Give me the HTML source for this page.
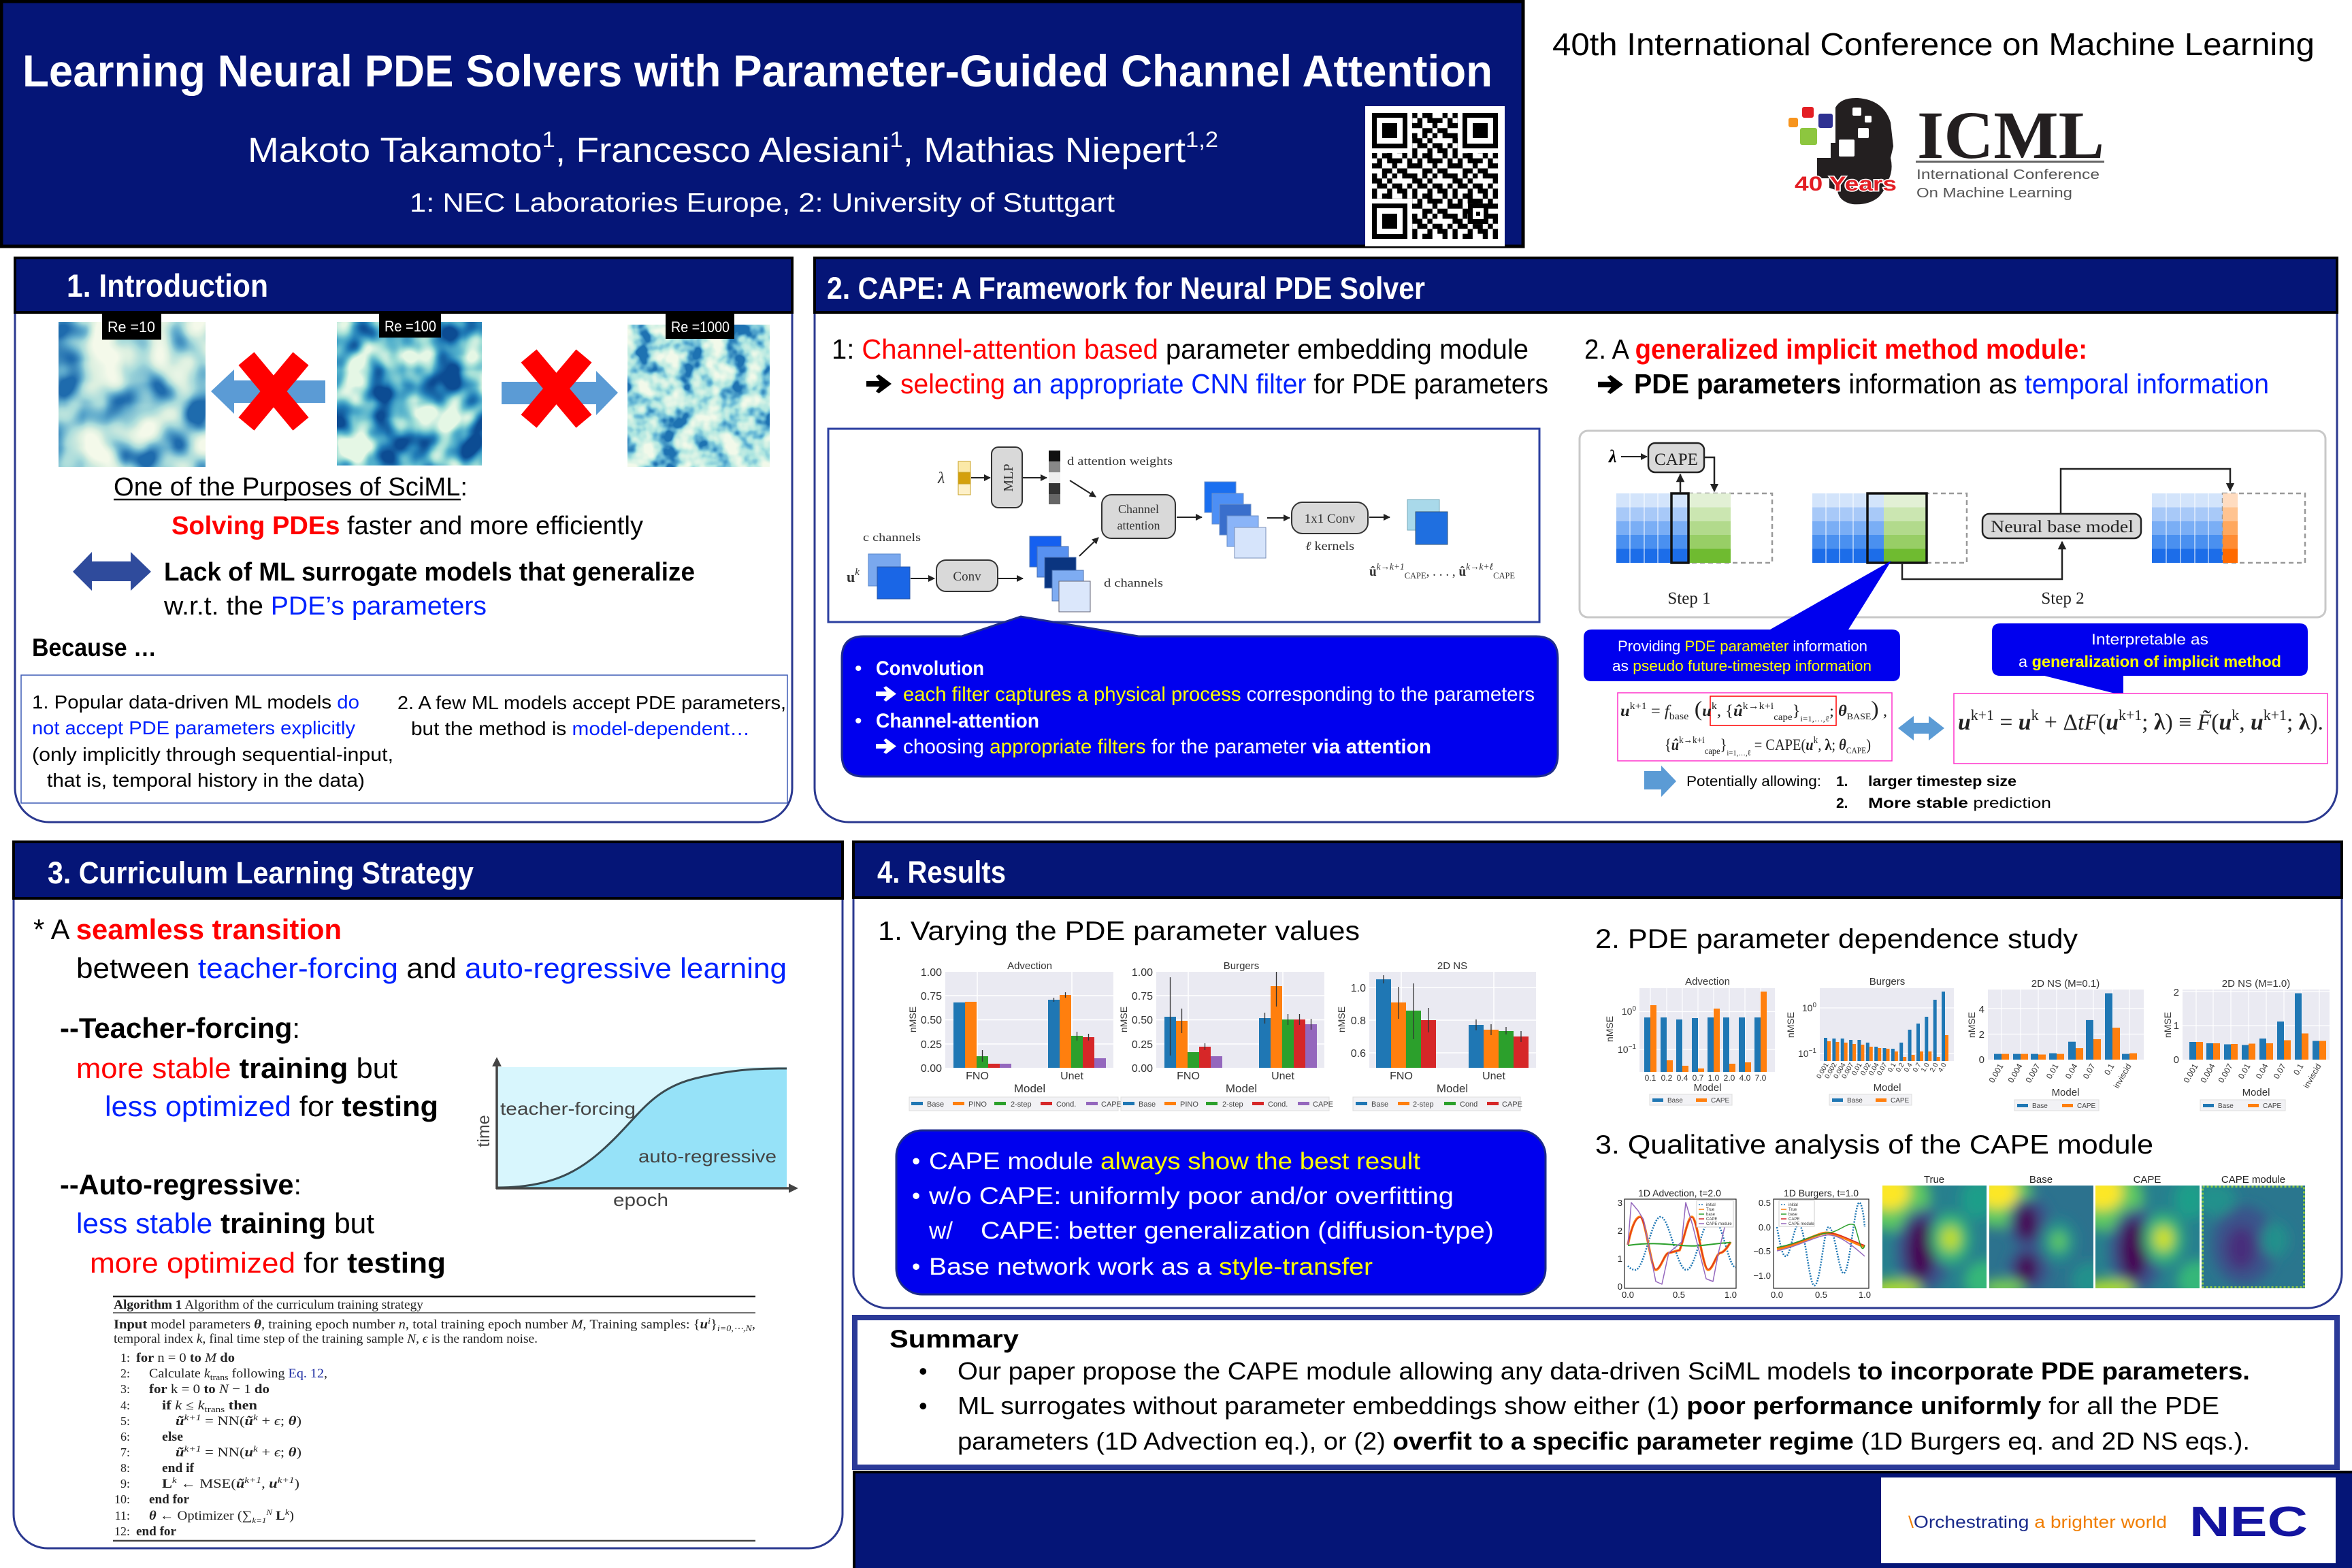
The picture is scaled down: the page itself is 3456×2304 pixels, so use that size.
<!DOCTYPE html>
<html><head><meta charset="utf-8"><style>
html,body{margin:0;padding:0;background:#fff;width:3456px;height:2304px;overflow:hidden}
svg{display:block}
text{font-family:"Liberation Sans",Arial,sans-serif}
.r{font-family:"Liberation Serif","Times New Roman",serif}
.b{font-weight:bold}
.i{font-style:italic}
.red{fill:#ff0000}
.blu{fill:#0022ff}
.yel{fill:#ffff00}
.wh{fill:#ffffff}
.tk{fill:#333}
</style></head><body>
<svg width="3456" height="2304" viewBox="0 0 3456 2304" xmlns="http://www.w3.org/2000/svg">
<defs>
<marker id="ah" viewBox="0 0 10 10" refX="9" refY="5" markerWidth="5" markerHeight="5" orient="auto"><path d="M0 0L10 5L0 10z" fill="#222"/></marker>
<marker id="ah2" viewBox="0 0 10 10" refX="8" refY="5" markerWidth="4" markerHeight="4" orient="auto"><path d="M0 0L10 5L0 10z" fill="#444"/></marker>
<symbol id="ar" viewBox="0 0 40 30"><path d="M0 10.5H21L15 3L20 0L40 15L20 30L15 27L21 19.5H0Z"/></symbol>
<linearGradient id="gb" x1="0" y1="0" x2="0" y2="1"><stop offset="0" stop-color="#d3e4fb"/><stop offset=".2" stop-color="#d3e4fb"/><stop offset=".2" stop-color="#a8c9f8"/><stop offset=".4" stop-color="#a8c9f8"/><stop offset=".4" stop-color="#7aaef5"/><stop offset=".6" stop-color="#7aaef5"/><stop offset=".6" stop-color="#4a90f0"/><stop offset=".8" stop-color="#4a90f0"/><stop offset=".8" stop-color="#1c6de9"/><stop offset="1" stop-color="#1c6de9"/></linearGradient>
<linearGradient id="gg" x1="0" y1="0" x2="0" y2="1"><stop offset="0" stop-color="#e2f0d5"/><stop offset=".2" stop-color="#e2f0d5"/><stop offset=".2" stop-color="#cbe6b1"/><stop offset=".4" stop-color="#cbe6b1"/><stop offset=".4" stop-color="#b2da8c"/><stop offset=".6" stop-color="#b2da8c"/><stop offset=".6" stop-color="#98ce66"/><stop offset=".8" stop-color="#98ce66"/><stop offset=".8" stop-color="#6fbb30"/><stop offset="1" stop-color="#6fbb30"/></linearGradient>
<linearGradient id="go" x1="0" y1="0" x2="0" y2="1"><stop offset="0" stop-color="#ffdcc0"/><stop offset=".2" stop-color="#ffdcc0"/><stop offset=".2" stop-color="#ffc390"/><stop offset=".4" stop-color="#ffc390"/><stop offset=".4" stop-color="#ffa85e"/><stop offset=".6" stop-color="#ffa85e"/><stop offset=".6" stop-color="#ff8c33"/><stop offset=".8" stop-color="#ff8c33"/><stop offset=".8" stop-color="#ff6a00"/><stop offset="1" stop-color="#ff6a00"/></linearGradient>
<pattern id="qrp" patternUnits="userSpaceOnUse" x="2016" y="166" width="59.2" height="59.2"><path transform="scale(7.4)" fill="#000" d="M0 0h1v1h-1zM2 0h2v1h-2zM6 0h1v1h-1zM1 1h1v1h-1zM3 1h3v1h-3zM7 1h1v1h-1zM0 2h2v1h-2zM4 2h1v1h-1zM7 2h1v1h-1zM2 3h2v1h-2zM5 3h2v1h-2zM0 4h1v1h-1zM2 4h1v1h-1zM4 4h1v1h-1zM6 4h2v1h-2zM0 5h2v1h-2zM3 5h1v1h-1zM1 6h2v1h-2zM4 6h2v1h-2zM7 6h1v1h-1zM0 7h1v1h-1zM3 7h1v1h-1zM5 7h2v1h-2z"/></pattern>
<filter id="tb1" x="0" y="0" width="1" height="1" color-interpolation-filters="sRGB"><feTurbulence type="fractalNoise" baseFrequency="0.016" numOctaves="2" seed="7"/><feColorMatrix type="matrix" values="0 0 0 2.5 -0.75 0 0 0 2.5 -0.75 0 0 0 2.5 -0.75 0 0 0 0 1"/><feComponentTransfer><feFuncR type="table" tableValues="0.96 0.86 0.66 0.36 0.12"/><feFuncG type="table" tableValues="0.98 0.94 0.86 0.66 0.42"/><feFuncB type="table" tableValues="0.92 0.88 0.86 0.8 0.68"/></feComponentTransfer></filter>
<filter id="tb2" x="0" y="0" width="1" height="1" color-interpolation-filters="sRGB"><feTurbulence type="fractalNoise" baseFrequency="0.022" numOctaves="2" seed="3"/><feColorMatrix type="matrix" values="0 0 0 2.5 -0.75 0 0 0 2.5 -0.75 0 0 0 2.5 -0.75 0 0 0 0 1"/><feComponentTransfer><feFuncR type="table" tableValues="0.9 0.62 0.32 0.13 0.05"/><feFuncG type="table" tableValues="0.97 0.87 0.69 0.49 0.3"/><feFuncB type="table" tableValues="0.9 0.84 0.8 0.72 0.58"/></feComponentTransfer></filter>
<filter id="tb3" x="0" y="0" width="1" height="1" color-interpolation-filters="sRGB"><feTurbulence type="fractalNoise" baseFrequency="0.03" numOctaves="3" seed="11"/><feColorMatrix type="matrix" values="0 0 0 2.5 -0.75 0 0 0 2.5 -0.75 0 0 0 2.5 -0.75 0 0 0 0 1"/><feComponentTransfer><feFuncR type="table" tableValues="0.95 0.84 0.68 0.4 0.12"/><feFuncG type="table" tableValues="0.98 0.95 0.9 0.72 0.45"/><feFuncB type="table" tableValues="0.92 0.9 0.88 0.84 0.7"/></feComponentTransfer></filter>
<filter id="hb" x="-30%" y="-30%" width="160%" height="160%"><feGaussianBlur stdDeviation="9"/></filter>
</defs>

<!-- ============ HEADER ============ -->
<rect x="2" y="2" width="2236" height="360" fill="#051577" stroke="#000" stroke-width="5"/>
<text x="33" y="127" font-size="66" class="b" fill="#fff" textLength="2160" lengthAdjust="spacingAndGlyphs">Learning Neural PDE Solvers with Parameter-Guided Channel Attention</text>
<text x="364" y="238" font-size="51" fill="#fff" textLength="1426" lengthAdjust="spacingAndGlyphs">Makoto Takamoto<tspan dy="-22" font-size="32">1</tspan><tspan dy="22">,  Francesco Alesiani</tspan><tspan dy="-22" font-size="32">1</tspan><tspan dy="22">, Mathias Niepert</tspan><tspan dy="-22" font-size="32">1,2</tspan></text>
<text x="602" y="311" font-size="39" fill="#fff" textLength="1036" lengthAdjust="spacingAndGlyphs">1: NEC Laboratories Europe, 2: University of Stuttgart</text>
<!-- QR -->
<rect x="2006" y="156" width="205" height="206" fill="#fff"/>
<rect x="2016" y="166" width="185" height="185" fill="url(#qrp)"/>
<g fill="#fff"><rect x="2016" y="166" width="59" height="59"/><rect x="2142" y="166" width="59" height="59"/><rect x="2016" y="292" width="59" height="59"/></g>
<g fill="#000"><rect x="2016" y="166" width="52" height="52"/><rect x="2149" y="166" width="52" height="52"/><rect x="2016" y="299" width="52" height="52"/></g>
<g fill="#fff"><rect x="2023" y="173" width="38" height="38"/><rect x="2156" y="173" width="38" height="38"/><rect x="2023" y="306" width="38" height="38"/></g>
<g fill="#000"><rect x="2031" y="181" width="22" height="22"/><rect x="2164" y="181" width="22" height="22"/><rect x="2031" y="314" width="22" height="22"/><rect x="2157" y="299" width="30" height="30"/></g>
<rect x="2164" y="306" width="16" height="16" fill="#fff"/><rect x="2169" y="311" width="6" height="6" fill="#000"/>

<text x="2281" y="81" font-size="46" fill="#000" textLength="1120" lengthAdjust="spacingAndGlyphs">40th International Conference on Machine Learning</text>
<!-- ICML logo -->
<rect x="2628" y="173" width="14" height="14" rx="3" fill="#f7941d"/>
<rect x="2648" y="157" width="17" height="16" rx="3" fill="#e31e24"/>
<rect x="2672" y="167" width="21" height="21" rx="3" fill="#2e3192"/>
<rect x="2645" y="188" width="25" height="25" rx="3" fill="#8dc63f"/>
<path d="M2697 158Q2705 143 2730 144Q2768 147 2778 180L2782 215L2778 232Q2782 248 2776 262Q2770 280 2760 290Q2745 302 2722 300Q2702 296 2700 280L2688 276L2688 262L2670 262L2670 232L2690 232L2690 210L2697 210Z" fill="#231f20"/>
<g fill="#fff"><rect x="2722" y="158" width="13" height="12" rx="2"/><rect x="2740" y="170" width="10" height="10" rx="2"/><rect x="2730" y="188" width="16" height="15" rx="2"/><rect x="2702" y="205" width="23" height="25" rx="2"/></g>
<text x="2637" y="280" font-size="30" class="b" fill="#e31e24" stroke="#fff" stroke-width="3" paint-order="stroke" textLength="150" lengthAdjust="spacingAndGlyphs">40 Years</text>
<text x="2817" y="232" font-size="100" class="r b" fill="#231f20" textLength="275" lengthAdjust="spacingAndGlyphs">ICML</text>
<rect x="2815" y="236" width="277" height="3" fill="#666"/>
<text x="2816" y="263" font-size="20" fill="#555" textLength="269" lengthAdjust="spacingAndGlyphs">International Conference</text>
<text x="2816" y="290" font-size="20" fill="#555" textLength="229" lengthAdjust="spacingAndGlyphs">On Machine Learning</text>

<!-- ============ SECTION FRAMES ============ -->
<path d="M22 379V1158A50 50 0 0 0 72 1208H1114A50 50 0 0 0 1164 1158V379Z" fill="#fff" stroke="#2b3990" stroke-width="3"/>
<rect x="22" y="379" width="1142" height="80" fill="#051577" stroke="#000" stroke-width="4"/>
<text x="98" y="436" font-size="47" class="b" fill="#fff" textLength="296" lengthAdjust="spacingAndGlyphs">1. Introduction</text>

<path d="M1197 379V1158A50 50 0 0 0 1247 1208H3384A50 50 0 0 0 3434 1158V379Z" fill="#fff" stroke="#2b3990" stroke-width="3"/>
<rect x="1197" y="379" width="2237" height="80" fill="#051577" stroke="#000" stroke-width="4"/>
<text x="1215" y="439" font-size="45" class="b" fill="#fff" textLength="879" lengthAdjust="spacingAndGlyphs">2. CAPE: A Framework for Neural PDE Solver</text>

<path d="M20 1237V2225A50 50 0 0 0 70 2275H1188A50 50 0 0 0 1238 2225V1237Z" fill="#fff" stroke="#2b3990" stroke-width="3"/>
<rect x="20" y="1237" width="1218" height="83" fill="#051577" stroke="#000" stroke-width="4"/>
<text x="70" y="1298" font-size="45" class="b" fill="#fff" textLength="626" lengthAdjust="spacingAndGlyphs">3. Curriculum Learning Strategy</text>

<path d="M1254 1237V1872A50 50 0 0 0 1304 1922H3391A50 50 0 0 0 3441 1872V1237Z" fill="#fff" stroke="#2b3990" stroke-width="3"/>
<rect x="1254" y="1237" width="2187" height="82" fill="#051577" stroke="#000" stroke-width="4"/>
<text x="1289" y="1297" font-size="45" class="b" fill="#fff" textLength="189" lengthAdjust="spacingAndGlyphs">4. Results</text>

<!-- ============ SECTION 1 ============ -->
<rect x="86" y="473" width="216" height="213" fill="#fff" filter="url(#tb1)"/>
<rect x="495" y="473" width="213" height="211" fill="#fff" filter="url(#tb2)"/>
<rect x="922" y="477" width="209" height="209" fill="#fff" filter="url(#tb3)"/>
<rect x="150" y="461" width="87" height="38" fill="#000"/><text x="158" y="488" font-size="22" fill="#fff" textLength="70" lengthAdjust="spacingAndGlyphs">Re =10</text>
<rect x="557" y="461" width="91" height="35" fill="#000"/><text x="565" y="487" font-size="22" fill="#fff" textLength="76" lengthAdjust="spacingAndGlyphs">Re =100</text>
<rect x="978" y="461" width="101" height="37" fill="#000"/><text x="986" y="488" font-size="22" fill="#fff" textLength="86" lengthAdjust="spacingAndGlyphs">Re =1000</text>
<polygon points="310,575 344,543 344,559 478,559 478,592 344,592 344,608" fill="#5b9bd5"/>
<polygon points="908,577 876,545 876,561 737,561 737,594 876,594 876,610" fill="#5b9bd5"/>
<g stroke="#ff0000" stroke-width="30"><line x1="362" y1="527" x2="442" y2="623"/><line x1="442" y1="527" x2="362" y2="623"/><line x1="777" y1="523" x2="858" y2="619"/><line x1="858" y1="523" x2="777" y2="619"/></g>
<text x="167" y="728" font-size="38" textLength="520" lengthAdjust="spacingAndGlyphs">One of the Purposes of SciML:</text>
<line x1="167" y1="734" x2="677" y2="734" stroke="#000" stroke-width="2.5"/>
<text x="252" y="785" font-size="38" textLength="693" lengthAdjust="spacingAndGlyphs"><tspan class="b red">Solving PDEs</tspan> faster and more efficiently</text>
<polygon points="107,840 135,811 135,825 192,825 192,811 222,840 192,868 192,854 135,854 135,868" fill="#2f4b9c"/>
<text x="241" y="853" font-size="38" class="b" textLength="780" lengthAdjust="spacingAndGlyphs">Lack of ML surrogate models that generalize</text>
<text x="241" y="903" font-size="38" textLength="474" lengthAdjust="spacingAndGlyphs">w.r.t. the <tspan class="blu">PDE’s parameters</tspan></text>
<text x="47" y="964" font-size="37" class="b" textLength="183" lengthAdjust="spacingAndGlyphs">Because …</text>
<rect x="31" y="992" width="1126" height="188" fill="none" stroke="#3d5bb5" stroke-width="1.5"/>
<text x="47" y="1041" font-size="28" textLength="481" lengthAdjust="spacingAndGlyphs">1. Popular data-driven ML models <tspan class="blu">do</tspan></text>
<text x="47" y="1079" font-size="28" class="blu" textLength="475" lengthAdjust="spacingAndGlyphs">not accept PDE parameters explicitly</text>
<text x="47" y="1118" font-size="28" textLength="531" lengthAdjust="spacingAndGlyphs">(only implicitly through sequential-input,</text>
<text x="69" y="1156" font-size="28" textLength="467" lengthAdjust="spacingAndGlyphs">that is, temporal history in the data)</text>
<text x="584" y="1042" font-size="28" textLength="571" lengthAdjust="spacingAndGlyphs">2. A few ML models accept PDE parameters,</text>
<text x="604" y="1080" font-size="28" textLength="498" lengthAdjust="spacingAndGlyphs">but the method is <tspan class="blu">model-dependent…</tspan></text>

<!-- ============ SECTION 2 LEFT ============ -->
<text x="1222" y="527" font-size="41" textLength="1024" lengthAdjust="spacingAndGlyphs">1:  <tspan class="red">Channel-attention based</tspan> parameter embedding module</text>
<use href="#ar" x="1273" y="550" width="37" height="28" fill="#000"/>
<text x="1323" y="578" font-size="41" textLength="952" lengthAdjust="spacingAndGlyphs"><tspan class="red">selecting</tspan> <tspan class="blu">an appropriate CNN filter</tspan> for PDE parameters</text>
<rect x="1217" y="630" width="1045" height="284" fill="#fff" stroke="#2b3fa0" stroke-width="3"/>
<g class="r" fill="#333">
<text x="1378" y="710" font-size="24" class="r i">λ</text>
<rect x="1408" y="678" width="18" height="16" fill="#fbe9a8" stroke="#c9a227"/><rect x="1408" y="694" width="18" height="17" fill="#d4a00d" stroke="#c9a227"/><rect x="1408" y="711" width="18" height="16" fill="#fdf0c8" stroke="#c9a227"/>
<line x1="1427" y1="702" x2="1455" y2="702" stroke="#222" stroke-width="2" marker-end="url(#ah)"/>
<rect x="1457" y="657" width="45" height="89" rx="10" fill="#d9d9d9" stroke="#333" stroke-width="2"/>
<text transform="translate(1488 702) rotate(-90)" text-anchor="middle" font-size="20" class="r">MLP</text>
<line x1="1503" y1="702" x2="1538" y2="702" stroke="#222" stroke-width="2" marker-end="url(#ah)"/>
<rect x="1541" y="662" width="17" height="16" fill="#111"/><rect x="1541" y="678" width="17" height="16" fill="#888"/><rect x="1541" y="694" width="17" height="16" fill="#eee"/><rect x="1541" y="710" width="17" height="16" fill="#333"/><rect x="1541" y="726" width="17" height="15" fill="#666"/>
<text x="1568" y="683" font-size="17" class="r" textLength="155" lengthAdjust="spacingAndGlyphs">d attention weights</text>
<line x1="1572" y1="706" x2="1610" y2="730" stroke="#222" stroke-width="2" marker-end="url(#ah)"/>
<rect x="1619" y="727" width="108" height="64" rx="14" fill="#d9d9d9" stroke="#333" stroke-width="2"/>
<text x="1673" y="754" font-size="18" class="r" text-anchor="middle">Channel</text>
<text x="1673" y="778" font-size="18" class="r" text-anchor="middle">attention</text>
<line x1="1729" y1="760" x2="1766" y2="760" stroke="#222" stroke-width="2" marker-end="url(#ah)"/>
<rect x="1770" y="708" width="46" height="45" fill="#1a6ff0" stroke="#6a8fc8"/><rect x="1781" y="725" width="46" height="45" fill="#4d8ff5" stroke="#6a8fc8"/><rect x="1792" y="741" width="46" height="45" fill="#3a6fcc" stroke="#6a8fc8"/><rect x="1803" y="758" width="46" height="45" fill="#8ab4f8" stroke="#6a8fc8"/><rect x="1814" y="775" width="46" height="45" fill="#d6e4fb" stroke="#7a8fb8"/>
<line x1="1862" y1="761" x2="1895" y2="761" stroke="#222" stroke-width="2" marker-end="url(#ah)"/>
<rect x="1898" y="738" width="112" height="46" rx="16" fill="#d9d9d9" stroke="#333" stroke-width="2"/>
<text x="1954" y="768" font-size="19" class="r" text-anchor="middle">1x1 Conv</text>
<text x="1918" y="808" font-size="18" class="r" textLength="72" lengthAdjust="spacingAndGlyphs"><tspan class="i">ℓ</tspan> kernels</text>
<line x1="2012" y1="760" x2="2042" y2="760" stroke="#222" stroke-width="2" marker-end="url(#ah)"/>
<rect x="2068" y="734" width="47" height="45" fill="#a9d9ea" stroke="#7ab"/><rect x="2080" y="752" width="47" height="48" fill="#1f6fe0" stroke="#357"/>
<text x="2012" y="846" font-size="20" class="r" textLength="214" lengthAdjust="spacingAndGlyphs"><tspan class="b">û</tspan><tspan dy="-9" font-size="14" class="i">k→k+1</tspan><tspan dy="13" font-size="13">CAPE</tspan><tspan dy="-4">, . . . , </tspan><tspan class="b">û</tspan><tspan dy="-9" font-size="14" class="i">k→k+ℓ</tspan><tspan dy="13" font-size="13">CAPE</tspan></text>
<text x="1268" y="795" font-size="17" class="r" textLength="85" lengthAdjust="spacingAndGlyphs">c channels</text>
<text x="1244" y="855" font-size="22" class="r b">u<tspan dy="-10" font-size="15" class="i" font-weight="normal">k</tspan></text>
<rect x="1276" y="814" width="47" height="47" fill="#7aa8ee" stroke="#5a88cc"/><rect x="1289" y="833" width="48" height="47" fill="#1a66e6" stroke="#2a56a6"/>
<line x1="1338" y1="850" x2="1373" y2="850" stroke="#222" stroke-width="2" marker-end="url(#ah)"/>
<rect x="1376" y="823" width="90" height="46" rx="14" fill="#d9d9d9" stroke="#333" stroke-width="2"/>
<text x="1421" y="853" font-size="19" class="r" text-anchor="middle">Conv</text>
<line x1="1467" y1="850" x2="1503" y2="850" stroke="#222" stroke-width="2" marker-end="url(#ah)"/>
<rect x="1513" y="788" width="46" height="45" fill="#1560f0" stroke="#4a70b0"/><rect x="1524" y="803" width="46" height="45" fill="#5891f0" stroke="#4a70b0"/><rect x="1535" y="819" width="46" height="45" fill="#0a3580" stroke="#4a70b0"/><rect x="1546" y="838" width="46" height="45" fill="#7eacf2" stroke="#4a70b0"/><rect x="1556" y="854" width="46" height="45" fill="#dbe7fb" stroke="#667"/>
<text x="1622" y="862" font-size="17" class="r" textLength="87" lengthAdjust="spacingAndGlyphs">d channels</text>
<line x1="1586" y1="817" x2="1614" y2="790" stroke="#222" stroke-width="2" marker-end="url(#ah)"/>
</g>
<path d="M1269 935L1413 935L1500 906L1673 935L2257 935Q2289 935 2289 967L2289 1109Q2289 1141 2257 1141L1269 1141Q1237 1141 1237 1109L1237 967Q1237 935 1269 935Z" fill="#0000ee" stroke="#1f2d8c" stroke-width="3"/>
<text x="1256" y="992" font-size="30" fill="#fff">•</text>
<text x="1287" y="992" font-size="30" class="b" fill="#fff" textLength="159" lengthAdjust="spacingAndGlyphs">Convolution</text>
<use href="#ar" x="1287" y="1008" width="30" height="23" fill="#fff"/>
<text x="1327" y="1030" font-size="30" fill="#fff" textLength="928" lengthAdjust="spacingAndGlyphs"><tspan class="yel">each filter captures a physical process</tspan> corresponding to the parameters</text>
<text x="1256" y="1069" font-size="30" fill="#fff">•</text>
<text x="1287" y="1069" font-size="30" class="b" fill="#fff" textLength="240" lengthAdjust="spacingAndGlyphs">Channel-attention</text>
<use href="#ar" x="1287" y="1085" width="30" height="23" fill="#fff"/>
<text x="1327" y="1107" font-size="30" fill="#fff" textLength="776" lengthAdjust="spacingAndGlyphs">choosing <tspan class="yel">appropriate filters</tspan> for the parameter <tspan class="b">via attention</tspan></text>

<!-- ============ SECTION 2 RIGHT ============ -->
<text x="2328" y="527" font-size="41" textLength="739" lengthAdjust="spacingAndGlyphs">2.  A <tspan class="b red">generalized implicit method module:</tspan></text>
<use href="#ar" x="2348" y="551" width="37" height="28" fill="#000"/>
<text x="2401" y="578" font-size="41" textLength="933" lengthAdjust="spacingAndGlyphs"><tspan class="b">PDE parameters</tspan> information as <tspan class="blu">temporal information</tspan></text>
<rect x="2321" y="633" width="1096" height="274" rx="12" fill="#fff" stroke="#c8c8c8" stroke-width="3"/>
<text x="2364" y="679" font-size="26" class="r b i">λ</text>
<line x1="2382" y1="671" x2="2420" y2="671" stroke="#222" stroke-width="2" marker-end="url(#ah)"/>
<rect x="2422" y="651" width="82" height="43" rx="10" fill="#d9d9d9" stroke="#222" stroke-width="2.5"/>
<text x="2463" y="683" font-size="25" class="r" text-anchor="middle" fill="#222">CAPE</text>
<!-- grid1 -->
<rect x="2375" y="725" width="81" height="102" fill="url(#gb)"/>
<path d="M2395 725V827M2416 725V827M2436 725V827" stroke="#fff" stroke-width="1"/>
<rect x="2481" y="725" width="123" height="102" fill="none" stroke="#999" stroke-width="2.5" stroke-dasharray="7 5"/>
<rect x="2481" y="725" width="62" height="102" fill="url(#gg)"/>
<rect x="2456" y="725" width="25" height="102" fill="url(#gb)" stroke="#111" stroke-width="3.5"/>
<line x1="2469" y1="724" x2="2469" y2="697" stroke="#222" stroke-width="2.5" marker-end="url(#ah)"/>
<path d="M2505 672H2519V722" fill="none" stroke="#222" stroke-width="2.5" marker-end="url(#ah)"/>
<text x="2482" y="887" font-size="25" class="r" text-anchor="middle" fill="#222">Step 1</text>
<!-- grid2 -->
<rect x="2663" y="725" width="81" height="102" fill="url(#gb)"/>
<path d="M2683 725V827M2703 725V827M2723 725V827" stroke="#fff" stroke-width="1"/>
<rect x="2744" y="725" width="146" height="102" fill="none" stroke="#999" stroke-width="2.5" stroke-dasharray="7 5"/>
<rect x="2744" y="725" width="24" height="102" fill="url(#gb)"/>
<rect x="2768" y="725" width="63" height="102" fill="url(#gg)"/>
<rect x="2744" y="725" width="87" height="102" fill="none" stroke="#111" stroke-width="3.5"/>
<rect x="2913" y="755" width="233" height="36" rx="10" fill="#d9d9d9" stroke="#222" stroke-width="2.5"/>
<text x="3030" y="782" font-size="25" class="r" text-anchor="middle" fill="#222" textLength="210" lengthAdjust="spacingAndGlyphs">Neural base model</text>
<path d="M2795 827V851H3030V796" fill="none" stroke="#222" stroke-width="2.5" marker-end="url(#ah)"/>
<path d="M3028 755V689H3277V721" fill="none" stroke="#222" stroke-width="2.5" marker-end="url(#ah)"/>
<!-- grid3 -->
<rect x="3162" y="725" width="104" height="102" fill="url(#gb)"/>
<path d="M3183 725V827M3204 725V827M3225 725V827M3245 725V827" stroke="#fff" stroke-width="1"/>
<rect x="3266" y="725" width="121" height="102" fill="none" stroke="#999" stroke-width="2.5" stroke-dasharray="7 5"/>
<rect x="3266" y="725" width="22" height="102" fill="url(#go)"/>
<text x="3031" y="887" font-size="25" class="r" text-anchor="middle" fill="#222">Step 2</text>
<!-- callouts -->
<path d="M2339 925H2601L2779 824L2716 925H2780Q2792 925 2792 937V989Q2792 1001 2780 1001H2339Q2327 1001 2327 989V937Q2327 925 2339 925Z" fill="#0000ee"/>
<text x="2377" y="957" font-size="22" fill="#fff" textLength="367" lengthAdjust="spacingAndGlyphs">Providing <tspan class="yel">PDE parameter</tspan> information</text>
<text x="2369" y="986" font-size="22" fill="#fff" textLength="381" lengthAdjust="spacingAndGlyphs">as <tspan class="yel">pseudo future-timestep information</tspan></text>
<path d="M2939 916H3379Q3391 916 3391 928V981Q3391 993 3379 993H3120V1022L3004 993H2939Q2927 993 2927 981V928Q2927 916 2939 916Z" fill="#0000ee"/>
<text x="3073" y="947" font-size="22" fill="#fff" textLength="172" lengthAdjust="spacingAndGlyphs">Interpretable as</text>
<text x="2966" y="980" font-size="23" fill="#fff" textLength="386" lengthAdjust="spacingAndGlyphs">a <tspan class="b yel">generalization of implicit method</tspan></text>
<!-- equations -->
<rect x="2377" y="1018" width="403" height="100" fill="#fff" stroke="#ff33cc" stroke-width="1.5"/>
<rect x="2513" y="1023" width="185" height="43" fill="none" stroke="#ff0000" stroke-width="1.5"/>
<text x="2381" y="1052" font-size="23" class="r" fill="#222" textLength="392" lengthAdjust="spacingAndGlyphs"><tspan class="b i">u</tspan><tspan dy="-10" font-size="15">k+1</tspan><tspan dy="10"> = </tspan><tspan class="i">f</tspan><tspan dy="5" font-size="15">base</tspan><tspan dy="-5" font-size="32"> (</tspan><tspan class="b i">u</tspan><tspan dy="-10" font-size="15">k</tspan><tspan dy="10">, {</tspan><tspan class="b i">û</tspan><tspan dy="-10" font-size="15">k→k+i</tspan><tspan dy="16" font-size="14">cape</tspan><tspan dy="-6">}</tspan><tspan dy="8" font-size="12">i=1,…,ℓ</tspan><tspan dy="-8">; </tspan><tspan class="b i">θ</tspan><tspan dy="5" font-size="13">BASE</tspan><tspan dy="-5" font-size="32">)</tspan><tspan> ,</tspan></text>
<text x="2446" y="1102" font-size="23" class="r" fill="#222" textLength="303" lengthAdjust="spacingAndGlyphs">{<tspan class="b i">û</tspan><tspan dy="-10" font-size="15">k→k+i</tspan><tspan dy="16" font-size="14">cape</tspan><tspan dy="-6">}</tspan><tspan dy="8" font-size="12">i=1,…,ℓ</tspan><tspan dy="-8"> = CAPE(</tspan><tspan class="b i">u</tspan><tspan dy="-10" font-size="15">k</tspan><tspan dy="10">, </tspan><tspan class="b">λ</tspan>; <tspan class="b i">θ</tspan><tspan dy="5" font-size="13">CAPE</tspan><tspan dy="-5">)</tspan></text>
<polygon points="2789,1070 2812,1052 2812,1062 2834,1062 2834,1052 2857,1070 2834,1088 2834,1078 2812,1078 2812,1088" fill="#5b9bd5"/>
<rect x="2871" y="1019" width="549" height="103" fill="#fff" stroke="#ff33cc" stroke-width="1.5"/>
<text x="2877" y="1072" font-size="34" class="r" fill="#222" textLength="537" lengthAdjust="spacingAndGlyphs"><tspan class="b i">u</tspan><tspan dy="-14" font-size="22">k+1</tspan><tspan dy="14"> = </tspan><tspan class="b i">u</tspan><tspan dy="-14" font-size="22">k</tspan><tspan dy="14"> + Δ</tspan><tspan class="i">tF</tspan>(<tspan class="b i">u</tspan><tspan dy="-14" font-size="22">k+1</tspan><tspan dy="14">; </tspan><tspan class="b">λ</tspan>) ≡ <tspan class="i">F̃</tspan>(<tspan class="b i">u</tspan><tspan dy="-14" font-size="22">k</tspan><tspan dy="14">, </tspan><tspan class="b i">u</tspan><tspan dy="-14" font-size="22">k+1</tspan><tspan dy="14">; </tspan><tspan class="b">λ</tspan>).</text>
<polygon points="2416,1133 2441,1133 2441,1125 2463,1148 2441,1171 2441,1160 2416,1160" fill="#5b9bd5"/>
<text x="2478" y="1155" font-size="21" textLength="198" lengthAdjust="spacingAndGlyphs">Potentially allowing:</text>
<text x="2698" y="1155" font-size="21" class="b">1.</text>
<text x="2745" y="1155" font-size="21" class="b" textLength="218" lengthAdjust="spacingAndGlyphs">larger timestep size</text>
<text x="2698" y="1187" font-size="21" class="b">2.</text>
<text x="2745" y="1187" font-size="21" textLength="269" lengthAdjust="spacingAndGlyphs"><tspan class="b">More stable</tspan> prediction</text>

<!-- ============ SECTION 3 ============ -->
<text x="49" y="1380" font-size="42" textLength="453" lengthAdjust="spacingAndGlyphs">* A <tspan class="b red">seamless transition</tspan></text>
<text x="112" y="1437" font-size="42" textLength="1044" lengthAdjust="spacingAndGlyphs">between <tspan class="blu">teacher-forcing</tspan> and <tspan class="blu">auto-regressive learning</tspan></text>
<text x="88" y="1525" font-size="42" textLength="353" lengthAdjust="spacingAndGlyphs"><tspan class="b">--Teacher-forcing</tspan>:</text>
<text x="112" y="1584" font-size="42" textLength="472" lengthAdjust="spacingAndGlyphs"><tspan class="red">more stable</tspan> <tspan class="b">training</tspan> but</text>
<text x="154" y="1640" font-size="42" textLength="490" lengthAdjust="spacingAndGlyphs"><tspan class="blu">less optimized</tspan> for <tspan class="b">testing</tspan></text>
<text x="88" y="1755" font-size="42" textLength="355" lengthAdjust="spacingAndGlyphs"><tspan class="b">--Auto-regressive</tspan>:</text>
<text x="112" y="1812" font-size="42" textLength="438" lengthAdjust="spacingAndGlyphs"><tspan class="blu">less stable</tspan> <tspan class="b">training</tspan> but</text>
<text x="132" y="1870" font-size="42" textLength="523" lengthAdjust="spacingAndGlyphs"><tspan class="red">more optimized</tspan> for <tspan class="b">testing</tspan></text>
<!-- chart -->
<rect x="731" y="1568" width="425" height="177" fill="#d8f6fd"/>
<path d="M731 1745C820 1745 860 1715 900 1676S960 1600 1020 1585S1120 1570 1156 1570V1745Z" fill="#96e2f8"/>
<path d="M731 1745C820 1745 860 1715 900 1676S960 1600 1020 1585S1120 1570 1156 1570" fill="none" stroke="#3a4a50" stroke-width="3"/>
<line x1="730" y1="1747" x2="730" y2="1556" stroke="#444" stroke-width="3.5" marker-end="url(#ah2)"/>
<line x1="729" y1="1746" x2="1170" y2="1746" stroke="#444" stroke-width="3.5" marker-end="url(#ah2)"/>
<text transform="translate(719 1662) rotate(-90)" text-anchor="middle" font-size="25" fill="#444">time</text>
<text x="735" y="1638" font-size="26" fill="#444" textLength="199" lengthAdjust="spacingAndGlyphs">teacher-forcing</text>
<text x="938" y="1708" font-size="26" fill="#444" textLength="203" lengthAdjust="spacingAndGlyphs">auto-regressive</text>
<text x="901" y="1772" font-size="26" fill="#444" textLength="81" lengthAdjust="spacingAndGlyphs">epoch</text>
<!-- algorithm -->
<line x1="166" y1="1905" x2="1110" y2="1905" stroke="#222" stroke-width="2.5"/>
<text x="167" y="1923" font-size="19" class="r" fill="#222" textLength="455" lengthAdjust="spacingAndGlyphs"><tspan class="b">Algorithm 1</tspan> Algorithm of the curriculum training strategy</text>
<line x1="166" y1="1929" x2="1110" y2="1929" stroke="#444" stroke-width="1.5"/>
<g class="r" fill="#222" font-size="19">
<text x="167" y="1952" class="r" textLength="943" lengthAdjust="spacingAndGlyphs"><tspan class="b">Input</tspan> model parameters <tspan class="b i">θ</tspan>, training epoch number <tspan class="i">n</tspan>, total training epoch number <tspan class="i">M</tspan>, Training samples: {<tspan class="b i">u</tspan><tspan dy="-7" font-size="13" class="i">i</tspan><tspan dy="7">}</tspan><tspan dy="4" font-size="13" class="i">i=0,⋯,N</tspan><tspan dy="-4">,</tspan></text>
<text x="167" y="1973" class="r" textLength="623" lengthAdjust="spacingAndGlyphs">temporal index <tspan class="i">k</tspan>, final time step of the training sample <tspan class="i">N</tspan>, <tspan class="i">ϵ</tspan> is the random noise.</text>
<g text-anchor="end" font-size="18"><text x="191" y="2001" class="r">1:</text><text x="191" y="2024" class="r">2:</text><text x="191" y="2047" class="r">3:</text><text x="191" y="2071" class="r">4:</text><text x="191" y="2094" class="r">5:</text><text x="191" y="2117" class="r">6:</text><text x="191" y="2140" class="r">7:</text><text x="191" y="2163" class="r">8:</text><text x="191" y="2186" class="r">9:</text><text x="191" y="2209" class="r">10:</text><text x="191" y="2233" class="r">11:</text><text x="191" y="2256" class="r">12:</text></g>
<text x="200" y="2001" class="r" textLength="145" lengthAdjust="spacingAndGlyphs"><tspan class="b">for</tspan> n = 0 <tspan class="b">to</tspan> <tspan class="i">M</tspan> <tspan class="b">do</tspan></text>
<text x="219" y="2024" class="r" textLength="262" lengthAdjust="spacingAndGlyphs">Calculate <tspan class="i">k</tspan><tspan dy="4" font-size="13">trans</tspan><tspan dy="-4"> following </tspan><tspan fill="#1a2aa0">Eq. 12</tspan>,</text>
<text x="219" y="2047" class="r" textLength="177" lengthAdjust="spacingAndGlyphs"><tspan class="b">for</tspan> k = 0 <tspan class="b">to</tspan> <tspan class="i">N</tspan> − 1 <tspan class="b">do</tspan></text>
<text x="238" y="2071" class="r" textLength="140" lengthAdjust="spacingAndGlyphs"><tspan class="b">if</tspan> <tspan class="i">k</tspan> ≤ <tspan class="i">k</tspan><tspan dy="4" font-size="13">trans</tspan><tspan dy="-4" class="b"> then</tspan></text>
<text x="258" y="2094" class="r" textLength="185" lengthAdjust="spacingAndGlyphs"><tspan class="b i">ũ</tspan><tspan dy="-7" font-size="13" class="i">k+1</tspan><tspan dy="7"> = NN(</tspan><tspan class="b i">ũ</tspan><tspan dy="-7" font-size="13" class="i">k</tspan><tspan dy="7"> + </tspan><tspan class="i">ϵ</tspan>; <tspan class="b i">θ</tspan>)</text>
<text x="238" y="2117" class="r b" textLength="31" lengthAdjust="spacingAndGlyphs">else</text>
<text x="258" y="2140" class="r" textLength="185" lengthAdjust="spacingAndGlyphs"><tspan class="b i">ũ</tspan><tspan dy="-7" font-size="13" class="i">k+1</tspan><tspan dy="7"> = NN(</tspan><tspan class="b i">u</tspan><tspan dy="-7" font-size="13" class="i">k</tspan><tspan dy="7"> + </tspan><tspan class="i">ϵ</tspan>; <tspan class="b i">θ</tspan>)</text>
<text x="238" y="2163" class="r b" textLength="47" lengthAdjust="spacingAndGlyphs">end if</text>
<text x="238" y="2186" class="r" textLength="202" lengthAdjust="spacingAndGlyphs"><tspan class="b">L</tspan><tspan dy="-7" font-size="13" class="i">k</tspan><tspan dy="7"> ← MSE(</tspan><tspan class="b i">ũ</tspan><tspan dy="-7" font-size="13" class="i">k+1</tspan><tspan dy="7">, </tspan><tspan class="b i">u</tspan><tspan dy="-7" font-size="13" class="i">k+1</tspan><tspan dy="7">)</tspan></text>
<text x="219" y="2209" class="r b" textLength="59" lengthAdjust="spacingAndGlyphs">end for</text>
<text x="219" y="2233" class="r" textLength="213" lengthAdjust="spacingAndGlyphs"><tspan class="b i">θ</tspan> ← Optimizer (∑<tspan dy="5" font-size="12" class="i">k=1</tspan><tspan dy="-12" font-size="12" class="i">N</tspan><tspan dy="7"> </tspan><tspan class="b">L</tspan><tspan dy="-7" font-size="13" class="i">k</tspan><tspan dy="7">)</tspan></text>
<text x="200" y="2256" class="r b" textLength="59" lengthAdjust="spacingAndGlyphs">end for</text>
</g>
<line x1="166" y1="2264" x2="1110" y2="2264" stroke="#444" stroke-width="2.5"/>

<!-- ============ SECTION 4 ============ -->
<text x="1290" y="1381" font-size="39" textLength="708" lengthAdjust="spacingAndGlyphs">1. Varying the PDE parameter values</text>
<!-- chart1 advection -->
<rect x="1389" y="1428" width="247" height="141" fill="#eaeaf2"/>
<path d="M1389 1463H1636M1389 1498.5H1636M1389 1534H1636M1436 1428V1569M1575 1428V1569" stroke="#fff" stroke-width="1.5"/>
<g>
<rect x="1401" y="1473" width="17" height="96" fill="#1f77b4"/><rect x="1418" y="1472" width="17" height="97" fill="#ff7f0e"/><rect x="1435" y="1552" width="17" height="17" fill="#2ca02c"/><rect x="1452" y="1563" width="17" height="6" fill="#d62728"/><rect x="1469" y="1563" width="17" height="6" fill="#9467bd"/>
<rect x="1540" y="1469" width="17" height="100" fill="#1f77b4"/><rect x="1557" y="1462" width="17" height="107" fill="#ff7f0e"/><rect x="1574" y="1522" width="17" height="47" fill="#2ca02c"/><rect x="1591" y="1524" width="17" height="45" fill="#d62728"/><rect x="1608" y="1555" width="17" height="14" fill="#9467bd"/>
<path d="M1443.5 1543V1560M1548.5 1466V1472M1565.5 1458V1466M1582.5 1516V1529M1599.5 1519V1529" stroke="#333" stroke-width="1.3"/>
</g>
<g font-size="16" class="tk" text-anchor="end"><text x="1384" y="1434" class="tk">1.00</text><text x="1384" y="1469" class="tk">0.75</text><text x="1384" y="1504" class="tk">0.50</text><text x="1384" y="1540" class="tk">0.25</text><text x="1384" y="1575" class="tk">0.00</text></g>
<text transform="translate(1346 1498) rotate(-90)" text-anchor="middle" font-size="14" class="tk">nMSE</text>
<text x="1513" y="1424" text-anchor="middle" font-size="15" class="tk">Advection</text>
<text x="1436" y="1586" text-anchor="middle" font-size="16" class="tk">FNO</text><text x="1575" y="1586" text-anchor="middle" font-size="16" class="tk">Unet</text>
<text x="1513" y="1605" text-anchor="middle" font-size="17" class="tk">Model</text>
<rect x="1336" y="1612" width="307" height="20" fill="#f2f2f5" stroke="#ddd"/>
<g font-size="11" fill="#444"><rect x="1339" y="1619" width="17" height="5" fill="#1f77b4"/><text x="1362" y="1626">Base</text><rect x="1400" y="1619" width="17" height="5" fill="#ff7f0e"/><text x="1423" y="1626">PINO</text><rect x="1461" y="1619" width="17" height="5" fill="#2ca02c"/><text x="1485" y="1626">2-step</text><rect x="1529" y="1619" width="17" height="5" fill="#d62728"/><text x="1552" y="1626">Cond.</text><rect x="1596" y="1619" width="17" height="5" fill="#9467bd"/><text x="1618" y="1626">CAPE</text></g>
<!-- chart2 burgers -->
<rect x="1699" y="1428" width="247" height="141" fill="#eaeaf2"/>
<path d="M1699 1463H1946M1699 1498.5H1946M1699 1534H1946M1746 1428V1569M1885 1428V1569" stroke="#fff" stroke-width="1.5"/>
<rect x="1711" y="1494" width="17" height="75" fill="#1f77b4"/><rect x="1728" y="1500" width="17" height="69" fill="#ff7f0e"/><rect x="1745" y="1546" width="17" height="23" fill="#2ca02c"/><rect x="1762" y="1538" width="17" height="31" fill="#d62728"/><rect x="1779" y="1552" width="17" height="17" fill="#9467bd"/>
<rect x="1850" y="1496" width="17" height="73" fill="#1f77b4"/><rect x="1867" y="1449" width="17" height="120" fill="#ff7f0e"/><rect x="1884" y="1498" width="17" height="71" fill="#2ca02c"/><rect x="1901" y="1498" width="17" height="71" fill="#d62728"/><rect x="1918" y="1505" width="17" height="64" fill="#9467bd"/>
<path d="M1719.5 1436V1551M1736.5 1482V1518M1770.5 1533V1543M1858.5 1488V1504M1875.5 1428V1479M1892.5 1490V1506M1909.5 1490V1506M1926.5 1497V1513" stroke="#333" stroke-width="1.3"/>
<g font-size="16" text-anchor="end"><text x="1694" y="1434" class="tk">1.00</text><text x="1694" y="1469" class="tk">0.75</text><text x="1694" y="1504" class="tk">0.50</text><text x="1694" y="1540" class="tk">0.25</text><text x="1694" y="1575" class="tk">0.00</text></g>
<text transform="translate(1656 1498) rotate(-90)" text-anchor="middle" font-size="14" class="tk">nMSE</text>
<text x="1824" y="1424" text-anchor="middle" font-size="15" class="tk">Burgers</text>
<text x="1746" y="1586" text-anchor="middle" font-size="16" class="tk">FNO</text><text x="1885" y="1586" text-anchor="middle" font-size="16" class="tk">Unet</text>
<text x="1824" y="1605" text-anchor="middle" font-size="17" class="tk">Model</text>
<rect x="1647" y="1612" width="306" height="20" fill="#f2f2f5" stroke="#ddd"/>
<g font-size="11" fill="#444"><rect x="1650" y="1619" width="17" height="5" fill="#1f77b4"/><text x="1673" y="1626">Base</text><rect x="1711" y="1619" width="17" height="5" fill="#ff7f0e"/><text x="1734" y="1626">PINO</text><rect x="1772" y="1619" width="17" height="5" fill="#2ca02c"/><text x="1796" y="1626">2-step</text><rect x="1840" y="1619" width="17" height="5" fill="#d62728"/><text x="1863" y="1626">Cond.</text><rect x="1907" y="1619" width="17" height="5" fill="#9467bd"/><text x="1929" y="1626">CAPE</text></g>
<!-- chart3 2D NS -->
<rect x="2012" y="1428" width="245" height="141" fill="#eaeaf2"/>
<path d="M2012 1451H2257M2012 1499H2257M2012 1547H2257M2059 1428V1569M2195 1428V1569" stroke="#fff" stroke-width="1.5"/>
<rect x="2022" y="1439" width="22" height="130" fill="#1f77b4"/><rect x="2044" y="1473" width="22" height="96" fill="#ff7f0e"/><rect x="2066" y="1485" width="22" height="84" fill="#2ca02c"/><rect x="2088" y="1499" width="22" height="70" fill="#d62728"/>
<rect x="2158" y="1506" width="22" height="63" fill="#1f77b4"/><rect x="2180" y="1513" width="22" height="56" fill="#ff7f0e"/><rect x="2202" y="1515" width="22" height="54" fill="#2ca02c"/><rect x="2224" y="1523" width="22" height="46" fill="#d62728"/>
<path d="M2033 1433V1445M2055 1450V1497M2077 1445V1527M2099 1481V1517M2169 1498V1514M2191 1505V1521M2213 1509V1520M2235 1515V1531" stroke="#333" stroke-width="1.3"/>
<g font-size="16" text-anchor="end"><text x="2007" y="1457" class="tk">1.0</text><text x="2007" y="1505" class="tk">0.8</text><text x="2007" y="1553" class="tk">0.6</text></g>
<text transform="translate(1976 1498) rotate(-90)" text-anchor="middle" font-size="14" class="tk">nMSE</text>
<text x="2134" y="1424" text-anchor="middle" font-size="15" class="tk">2D NS</text>
<text x="2059" y="1586" text-anchor="middle" font-size="16" class="tk">FNO</text><text x="2195" y="1586" text-anchor="middle" font-size="16" class="tk">Unet</text>
<text x="2134" y="1605" text-anchor="middle" font-size="17" class="tk">Model</text>
<rect x="1988" y="1612" width="246" height="20" fill="#f2f2f5" stroke="#ddd"/>
<g font-size="11" fill="#444"><rect x="1992" y="1619" width="17" height="5" fill="#1f77b4"/><text x="2015" y="1626">Base</text><rect x="2054" y="1619" width="17" height="5" fill="#ff7f0e"/><text x="2076" y="1626">2-step</text><rect x="2122" y="1619" width="17" height="5" fill="#2ca02c"/><text x="2145" y="1626">Cond</text><rect x="2185" y="1619" width="17" height="5" fill="#d62728"/><text x="2207" y="1626">CAPE</text></g>
<!-- callout results -->
<rect x="1317" y="1661" width="954" height="241" rx="38" fill="#0000ee" stroke="#1b2a8a" stroke-width="3"/>
<g font-size="35" fill="#fff">
<text x="1340" y="1718" fill="#fff">•</text><text x="1340" y="1769" fill="#fff">•</text><text x="1340" y="1873" fill="#fff">•</text>
<text x="1365" y="1718" fill="#fff" textLength="722" lengthAdjust="spacingAndGlyphs">CAPE module <tspan class="yel">always show the best result</tspan></text>
<text x="1365" y="1769" fill="#fff" textLength="771" lengthAdjust="spacingAndGlyphs">w/o CAPE: uniformly poor and/or overfitting</text>
<text x="1365" y="1820" fill="#fff">w/</text>
<text x="1441" y="1820" fill="#fff" textLength="754" lengthAdjust="spacingAndGlyphs">CAPE: better generalization (diffusion-type)</text>
<text x="1365" y="1873" fill="#fff" textLength="652" lengthAdjust="spacingAndGlyphs">Base network work as a <tspan class="yel">style-transfer</tspan></text>
</g>

<text x="2344" y="1393" font-size="40" textLength="709" lengthAdjust="spacingAndGlyphs">2. PDE parameter dependence study</text>
<!-- chart A advection -->
<rect x="2409" y="1452" width="199" height="123" fill="#eaeaf2"/>
<path d="M2409 1486.5H2608M2409 1542H2608M2425 1452V1575M2449 1452V1575M2472 1452V1575M2495 1452V1575M2518 1452V1575M2541 1452V1575M2564 1452V1575M2587 1452V1575" stroke="#fff" stroke-width="1.2"/>
<g fill="#1f77b4"><rect x="2416" y="1495" width="9" height="80"/><rect x="2440" y="1495" width="9" height="80"/><rect x="2463" y="1498" width="9" height="77"/><rect x="2486" y="1496" width="9" height="79"/><rect x="2509" y="1495" width="9" height="80"/><rect x="2532" y="1495" width="9" height="80"/><rect x="2555" y="1495" width="9" height="80"/><rect x="2578" y="1495" width="9" height="80"/></g>
<g fill="#ff7f0e"><rect x="2425" y="1477" width="9" height="98"/><rect x="2449" y="1558" width="9" height="17"/><rect x="2472" y="1566" width="9" height="9"/><rect x="2495" y="1570" width="9" height="5"/><rect x="2518" y="1482" width="9" height="93"/><rect x="2541" y="1563" width="9" height="12"/><rect x="2564" y="1561" width="9" height="14"/><rect x="2587" y="1457" width="9" height="118"/></g>
<text x="2404" y="1491" text-anchor="end" font-size="14" class="tk">10<tspan dy="-6" font-size="10">0</tspan></text>
<text x="2404" y="1547" text-anchor="end" font-size="14" class="tk">10<tspan dy="-6" font-size="10">−1</tspan></text>
<text transform="translate(2370 1512) rotate(-90)" text-anchor="middle" font-size="14" class="tk">nMSE</text>
<text x="2509" y="1447" text-anchor="middle" font-size="15" class="tk">Advection</text>
<g font-size="12" text-anchor="middle"><text x="2425" y="1588" class="tk">0.1</text><text x="2449" y="1588" class="tk">0.2</text><text x="2472" y="1588" class="tk">0.4</text><text x="2495" y="1588" class="tk">0.7</text><text x="2518" y="1588" class="tk">1.0</text><text x="2541" y="1588" class="tk">2.0</text><text x="2564" y="1588" class="tk">4.0</text><text x="2587" y="1588" class="tk">7.0</text></g>
<text x="2509" y="1603" text-anchor="middle" font-size="15" class="tk">Model</text>
<rect x="2424" y="1608" width="121" height="16" fill="#f2f2f5" stroke="#ddd"/>
<rect x="2428" y="1614" width="16" height="5" fill="#1f77b4"/><text x="2450" y="1620" font-size="10" fill="#444">Base</text><rect x="2492" y="1614" width="16" height="5" fill="#ff7f0e"/><text x="2514" y="1620" font-size="10" fill="#444">CAPE</text>
<!-- chart B burgers -->
<rect x="2674" y="1452" width="197" height="107" fill="#eaeaf2"/>
<path d="M2674 1481H2871M2674 1548H2871" stroke="#fff" stroke-width="1.2"/>
<g fill="#1f77b4"><rect x="2680" y="1525" width="5" height="34"/><rect x="2692.4" y="1526" width="5" height="33"/><rect x="2704.7" y="1526" width="5" height="33"/><rect x="2717.1" y="1528" width="5" height="31"/><rect x="2729.4" y="1528" width="5" height="31"/><rect x="2741.8" y="1532" width="5" height="27"/><rect x="2754.2" y="1538" width="5" height="21"/><rect x="2766.5" y="1540" width="5" height="19"/><rect x="2778.9" y="1541" width="5" height="18"/><rect x="2791.2" y="1532" width="5" height="27"/><rect x="2803.6" y="1513" width="5" height="46"/><rect x="2816" y="1504" width="5" height="55"/><rect x="2828.3" y="1494" width="5" height="65"/><rect x="2840.7" y="1469" width="5" height="90"/><rect x="2853" y="1457" width="5" height="102"/></g>
<g fill="#ff7f0e"><rect x="2685" y="1530" width="5" height="29"/><rect x="2697.4" y="1531" width="5" height="28"/><rect x="2709.7" y="1532" width="5" height="27"/><rect x="2722.1" y="1534" width="5" height="25"/><rect x="2734.4" y="1535" width="5" height="24"/><rect x="2746.8" y="1538" width="5" height="21"/><rect x="2759.2" y="1540" width="5" height="19"/><rect x="2771.5" y="1541" width="5" height="18"/><rect x="2783.9" y="1545" width="5" height="14"/><rect x="2796.2" y="1553" width="5" height="6"/><rect x="2808.6" y="1550" width="5" height="9"/><rect x="2821" y="1545" width="5" height="14"/><rect x="2833.3" y="1545" width="5" height="14"/><rect x="2845.7" y="1553" width="5" height="6"/><rect x="2858" y="1521" width="5" height="38"/></g>
<text x="2669" y="1486" text-anchor="end" font-size="14" class="tk">10<tspan dy="-6" font-size="10">0</tspan></text>
<text x="2669" y="1553" text-anchor="end" font-size="14" class="tk">10<tspan dy="-6" font-size="10">−1</tspan></text>
<text transform="translate(2636 1506) rotate(-90)" text-anchor="middle" font-size="14" class="tk">nMSE</text>
<text x="2773" y="1447" text-anchor="middle" font-size="15" class="tk">Burgers</text>
<g font-size="10" text-anchor="end">
<text transform="translate(2687 1564) rotate(-60)" class="tk">0.001</text><text transform="translate(2699 1564) rotate(-60)" class="tk">0.002</text><text transform="translate(2712 1564) rotate(-60)" class="tk">0.004</text><text transform="translate(2724 1564) rotate(-60)" class="tk">0.007</text><text transform="translate(2736 1564) rotate(-60)" class="tk">0.01</text><text transform="translate(2749 1564) rotate(-60)" class="tk">0.02</text><text transform="translate(2761 1564) rotate(-60)" class="tk">0.04</text><text transform="translate(2773 1564) rotate(-60)" class="tk">0.07</text><text transform="translate(2786 1564) rotate(-60)" class="tk">0.1</text><text transform="translate(2798 1564) rotate(-60)" class="tk">0.2</text><text transform="translate(2810 1564) rotate(-60)" class="tk">0.4</text><text transform="translate(2823 1564) rotate(-60)" class="tk">0.7</text><text transform="translate(2835 1564) rotate(-60)" class="tk">1.0</text><text transform="translate(2848 1564) rotate(-60)" class="tk">2.0</text><text transform="translate(2860 1564) rotate(-60)" class="tk">4.0</text>
</g>
<text x="2773" y="1603" text-anchor="middle" font-size="15" class="tk">Model</text>
<rect x="2688" y="1608" width="121" height="16" fill="#f2f2f5" stroke="#ddd"/>
<rect x="2692" y="1614" width="16" height="5" fill="#1f77b4"/><text x="2714" y="1620" font-size="10" fill="#444">Base</text><rect x="2756" y="1614" width="16" height="5" fill="#ff7f0e"/><text x="2778" y="1620" font-size="10" fill="#444">CAPE</text>
<!-- chart C NS M=0.1 -->
<rect x="2921" y="1454" width="229" height="103" fill="#eaeaf2"/>
<path d="M2921 1482H3150M2921 1519.5H3150M2941 1454V1557M2969 1454V1557M2995 1454V1557M3022 1454V1557M3050 1454V1557M3076 1454V1557M3104 1454V1557M3129 1454V1557" stroke="#fff" stroke-width="1.2"/>
<g fill="#1f77b4"><rect x="2930" y="1548.6" width="11" height="8.4"/><rect x="2958" y="1548.6" width="11" height="8.4"/><rect x="2984" y="1548.6" width="11" height="8.4"/><rect x="3011" y="1547.6" width="11" height="9.4"/><rect x="3039" y="1530.7" width="11" height="26.3"/><rect x="3065" y="1498.9" width="11" height="58.1"/><rect x="3093" y="1459.5" width="11" height="97.5"/><rect x="3118" y="1548.6" width="11" height="8.4"/></g>
<g fill="#ff7f0e"><rect x="2941" y="1548.6" width="11" height="8.4"/><rect x="2969" y="1548.6" width="11" height="8.4"/><rect x="2995" y="1549.5" width="11" height="7.5"/><rect x="3022" y="1548.6" width="11" height="8.4"/><rect x="3050" y="1540.1" width="11" height="16.9"/><rect x="3076" y="1527" width="11" height="30"/><rect x="3104" y="1510.1" width="11" height="46.9"/><rect x="3129" y="1547.6" width="11" height="9.4"/></g>
<g font-size="15" text-anchor="end"><text x="2916" y="1488" class="tk">4</text><text x="2916" y="1525" class="tk">2</text><text x="2916" y="1562" class="tk">0</text></g>
<text transform="translate(2902 1506) rotate(-90)" text-anchor="middle" font-size="14" class="tk">nMSE</text>
<text x="3035" y="1450" text-anchor="middle" font-size="15" class="tk">2D NS (M=0.1)</text>
<g font-size="12" text-anchor="end"><text transform="translate(2944 1566) rotate(-60)" class="tk">0.001</text><text transform="translate(2972 1566) rotate(-60)" class="tk">0.004</text><text transform="translate(2998 1566) rotate(-60)" class="tk">0.007</text><text transform="translate(3025 1566) rotate(-60)" class="tk">0.01</text><text transform="translate(3053 1566) rotate(-60)" class="tk">0.04</text><text transform="translate(3079 1566) rotate(-60)" class="tk">0.07</text><text transform="translate(3107 1566) rotate(-60)" class="tk">0.1</text><text transform="translate(3132 1566) rotate(-60)" class="tk">inviscid</text></g>
<text x="3035" y="1610" text-anchor="middle" font-size="15" class="tk">Model</text>
<rect x="2960" y="1616" width="124" height="16" fill="#f2f2f5" stroke="#ddd"/>
<rect x="2964" y="1622" width="16" height="5" fill="#1f77b4"/><text x="2986" y="1628" font-size="10" fill="#444">Base</text><rect x="3030" y="1622" width="16" height="5" fill="#ff7f0e"/><text x="3052" y="1628" font-size="10" fill="#444">CAPE</text>
<!-- chart D NS M=1.0 -->
<rect x="3207" y="1454" width="216" height="103" fill="#eaeaf2"/>
<path d="M3207 1457H3423M3207 1507H3423M3227 1454V1557M3252 1454V1557M3278 1454V1557M3304 1454V1557M3330 1454V1557M3356 1454V1557M3382 1454V1557M3408 1454V1557" stroke="#fff" stroke-width="1.2"/>
<g fill="#1f77b4"><rect x="3217" y="1531" width="10" height="26"/><rect x="3242" y="1533" width="10" height="24"/><rect x="3268" y="1534.5" width="10" height="22.5"/><rect x="3294" y="1535.5" width="10" height="21.5"/><rect x="3320" y="1526" width="10" height="31"/><rect x="3346" y="1501" width="10" height="56"/><rect x="3372" y="1459.5" width="10" height="97.5"/><rect x="3398" y="1529.5" width="10" height="27.5"/></g>
<g fill="#ff7f0e"><rect x="3227" y="1531" width="10" height="26"/><rect x="3252" y="1533" width="10" height="24"/><rect x="3278" y="1534" width="10" height="23"/><rect x="3304" y="1533.5" width="10" height="23.5"/><rect x="3330" y="1533" width="10" height="24"/><rect x="3356" y="1528.5" width="10" height="28.5"/><rect x="3382" y="1518.5" width="10" height="38.5"/><rect x="3408" y="1529.5" width="10" height="27.5"/></g>
<g font-size="15" text-anchor="end"><text x="3202" y="1463" class="tk">2</text><text x="3202" y="1512" class="tk">1</text><text x="3202" y="1562" class="tk">0</text></g>
<text transform="translate(3190 1506) rotate(-90)" text-anchor="middle" font-size="14" class="tk">nMSE</text>
<text x="3315" y="1450" text-anchor="middle" font-size="15" class="tk">2D NS (M=1.0)</text>
<g font-size="12" text-anchor="end"><text transform="translate(3230 1566) rotate(-60)" class="tk">0.001</text><text transform="translate(3255 1566) rotate(-60)" class="tk">0.004</text><text transform="translate(3281 1566) rotate(-60)" class="tk">0.007</text><text transform="translate(3307 1566) rotate(-60)" class="tk">0.01</text><text transform="translate(3333 1566) rotate(-60)" class="tk">0.04</text><text transform="translate(3359 1566) rotate(-60)" class="tk">0.07</text><text transform="translate(3385 1566) rotate(-60)" class="tk">0.1</text><text transform="translate(3411 1566) rotate(-60)" class="tk">inviscid</text></g>
<text x="3315" y="1610" text-anchor="middle" font-size="15" class="tk">Model</text>
<rect x="3233" y="1616" width="125" height="16" fill="#f2f2f5" stroke="#ddd"/>
<rect x="3237" y="1622" width="16" height="5" fill="#1f77b4"/><text x="3259" y="1628" font-size="10" fill="#444">Base</text><rect x="3303" y="1622" width="16" height="5" fill="#ff7f0e"/><text x="3325" y="1628" font-size="10" fill="#444">CAPE</text>

<text x="2344" y="1695" font-size="39" textLength="820" lengthAdjust="spacingAndGlyphs">3. Qualitative analysis of the CAPE module</text>
<!-- line plot advection -->
<svg x="2387" y="1762" width="164" height="131" overflow="hidden">
<g transform="translate(-2387 -1762)">
<path d="M2392 1860Q2397 1866 2403 1866C2416 1866 2427 1788 2440 1788S2464 1866 2478 1866S2502 1788 2516 1788S2540 1866 2551 1862" fill="none" stroke="#1f77b4" stroke-width="2.5" stroke-dasharray="2 2"/>
<path d="M2392 1829C2398 1800 2404 1788 2410 1788C2418 1788 2426 1866 2433 1866C2440 1866 2446 1841 2452 1841C2458 1840 2463 1838 2468 1837C2475 1820 2480 1788 2486 1788C2494 1788 2502 1866 2510 1866C2517 1866 2522 1841 2528 1841C2534 1840 2540 1830 2543 1825" fill="none" stroke="#ff7f0e" stroke-width="3.5"/>
<path d="M2392 1829C2398 1800 2404 1789 2410 1789C2418 1789 2426 1865 2433 1865C2440 1865 2446 1841 2452 1841C2458 1840 2463 1838 2468 1837C2475 1820 2480 1789 2486 1789C2494 1789 2502 1865 2510 1865C2517 1865 2522 1841 2528 1841C2534 1840 2540 1830 2543 1825" fill="none" stroke="#d62728" stroke-width="1.3"/>
<path d="M2392 1830C2420 1826 2440 1827 2470 1830S2520 1826 2543 1826" fill="none" stroke="#2ca02c" stroke-width="2"/>
<polyline points="2392,1829 2397,1767 2407,1779 2415,1792 2433,1883 2442,1887 2452,1841 2471,1825 2477,1767 2487,1800 2507,1879 2517,1883 2525,1841 2543,1767" fill="none" stroke="#9467bd" stroke-width="1.5" stroke-linejoin="round"/>
<rect x="2493" y="1764" width="54" height="39" fill="#fff" stroke="#ccc"/>
<g stroke-width="1.5"><line x1="2496" y1="1770" x2="2504" y2="1770" stroke="#1f77b4" stroke-dasharray="2 2"/><line x1="2496" y1="1777" x2="2504" y2="1777" stroke="#ff7f0e"/><line x1="2496" y1="1784" x2="2504" y2="1784" stroke="#2ca02c"/><line x1="2496" y1="1791" x2="2504" y2="1791" stroke="#d62728"/><line x1="2496" y1="1798" x2="2504" y2="1798" stroke="#9467bd"/></g>
<g font-size="6" fill="#333"><text x="2507" y="1772">initial</text><text x="2507" y="1779">True</text><text x="2507" y="1786">base</text><text x="2507" y="1793">CAPE</text><text x="2507" y="1800">CAPE module</text></g>
</g></svg>
<rect x="2387" y="1762" width="164" height="131" fill="none" stroke="#222" stroke-width="1.2"/>
<text x="2468" y="1758" text-anchor="middle" font-size="14" fill="#222">1D Advection, t=2.0</text>
<g font-size="13" fill="#222" text-anchor="end"><text x="2384" y="1772">3</text><text x="2384" y="1813">2</text><text x="2384" y="1854">1</text><text x="2384" y="1895">0</text><text x="2602" y="1772">0.5</text><text x="2602" y="1808">0.0</text><text x="2602" y="1843">−0.5</text><text x="2602" y="1879">−1.0</text></g>
<g font-size="13" fill="#222" text-anchor="middle"><text x="2392" y="1907">0.0</text><text x="2467" y="1907">0.5</text><text x="2543" y="1907">1.0</text><text x="2611" y="1907">0.0</text><text x="2676" y="1907">0.5</text><text x="2740" y="1907">1.0</text></g>
<!-- line plot burgers -->
<svg x="2606" y="1762" width="140" height="131" overflow="hidden">
<g transform="translate(-2606 -1762)">
<path d="M2611 1803C2616 1830 2619 1846 2624 1846C2631 1846 2636 1799 2643 1799C2652 1799 2658 1889 2666 1889C2675 1889 2680 1803 2687 1803C2696 1803 2702 1871 2709 1871C2718 1871 2725 1767 2732 1767C2736 1767 2739 1790 2740 1803" fill="none" stroke="#1f77b4" stroke-width="2.5" stroke-dasharray="2 2"/>
<path d="M2611 1835C2640 1830 2665 1815 2680 1812S2720 1825 2740 1832" fill="none" stroke="#ff7f0e" stroke-width="4"/>
<path d="M2611 1833C2640 1829 2665 1814 2682 1812S2720 1823 2740 1830" fill="none" stroke="#d62728" stroke-width="1.5"/>
<path d="M2611 1838C2640 1832 2665 1818 2682 1815S2720 1828 2740 1846" fill="none" stroke="#9467bd" stroke-width="1.5"/>
<path d="M2611 1833C2640 1828 2665 1813 2690 1811C2705 1808 2715 1795 2725 1800C2732 1820 2735 1845 2740 1830" fill="none" stroke="#2ca02c" stroke-width="1.5"/>
<rect x="2614" y="1764" width="52" height="38" fill="#fff" stroke="#ccc"/>
<g stroke-width="1.5"><line x1="2617" y1="1770" x2="2625" y2="1770" stroke="#1f77b4" stroke-dasharray="2 2"/><line x1="2617" y1="1777" x2="2625" y2="1777" stroke="#ff7f0e"/><line x1="2617" y1="1784" x2="2625" y2="1784" stroke="#2ca02c"/><line x1="2617" y1="1791" x2="2625" y2="1791" stroke="#d62728"/><line x1="2617" y1="1798" x2="2625" y2="1798" stroke="#9467bd"/></g>
<g font-size="6" fill="#333"><text x="2628" y="1772">initial</text><text x="2628" y="1779">True</text><text x="2628" y="1786">base</text><text x="2628" y="1793">CAPE</text><text x="2628" y="1800">CAPE module</text></g>
</g></svg>
<rect x="2606" y="1762" width="140" height="131" fill="none" stroke="#222" stroke-width="1.2"/>
<text x="2676" y="1758" text-anchor="middle" font-size="14" fill="#222">1D Burgers, t=1.0</text>
<!-- heatmaps -->
<g font-size="15" fill="#222" text-anchor="middle"><text x="2842" y="1738">True</text><text x="2999" y="1738">Base</text><text x="3155" y="1738">CAPE</text><text x="3311" y="1738">CAPE module</text></g>
<svg x="2766" y="1742" width="153" height="151" overflow="hidden">
<rect width="153" height="151" fill="#27808e"/>
<g filter="url(#hb)">
<ellipse cx="15" cy="18" rx="55" ry="48" fill="#5ec962"/><ellipse cx="10" cy="10" rx="30" ry="26" fill="#fde725"/>
<ellipse cx="140" cy="20" rx="25" ry="30" fill="#1f9e89"/>
<ellipse cx="60" cy="95" rx="40" ry="62" fill="#3b528b"/><ellipse cx="56" cy="95" rx="20" ry="45" fill="#440154"/>
<ellipse cx="100" cy="78" rx="30" ry="38" fill="#35b779"/><ellipse cx="100" cy="78" rx="14" ry="18" fill="#c2df23"/>
<ellipse cx="20" cy="152" rx="38" ry="14" fill="#addc30"/><ellipse cx="150" cy="140" rx="30" ry="30" fill="#35b779"/>
</g></svg>
<svg x="2923" y="1742" width="153" height="151" overflow="hidden">
<rect width="153" height="151" fill="#2c728e"/>
<g filter="url(#hb)">
<ellipse cx="15" cy="18" rx="50" ry="44" fill="#5ec962"/><ellipse cx="12" cy="10" rx="30" ry="24" fill="#fde725"/>
<ellipse cx="58" cy="55" rx="30" ry="38" fill="#3b528b"/><ellipse cx="55" cy="55" rx="16" ry="26" fill="#440154"/>
<ellipse cx="58" cy="122" rx="30" ry="32" fill="#3b528b"/><ellipse cx="55" cy="122" rx="16" ry="22" fill="#440154"/>
<ellipse cx="102" cy="82" rx="26" ry="32" fill="#21918c"/><ellipse cx="102" cy="82" rx="12" ry="15" fill="#5ec962"/>
<ellipse cx="20" cy="150" rx="32" ry="12" fill="#7ad151"/><ellipse cx="148" cy="140" rx="28" ry="28" fill="#21918c"/>
</g></svg>
<svg x="3079" y="1742" width="153" height="151" overflow="hidden">
<rect width="153" height="151" fill="#27808e"/>
<g filter="url(#hb)">
<ellipse cx="15" cy="18" rx="55" ry="48" fill="#5ec962"/><ellipse cx="10" cy="10" rx="30" ry="26" fill="#fde725"/>
<ellipse cx="140" cy="20" rx="25" ry="30" fill="#1f9e89"/>
<ellipse cx="60" cy="95" rx="40" ry="62" fill="#3b528b"/><ellipse cx="56" cy="95" rx="20" ry="45" fill="#440154"/>
<ellipse cx="100" cy="78" rx="30" ry="38" fill="#35b779"/><ellipse cx="100" cy="78" rx="14" ry="18" fill="#d2e21b"/>
<ellipse cx="20" cy="152" rx="38" ry="14" fill="#addc30"/><ellipse cx="150" cy="140" rx="30" ry="30" fill="#35b779"/>
</g></svg>
<svg x="3235" y="1742" width="152" height="151" overflow="hidden">
<rect width="152" height="151" fill="#2a768e"/>
<g filter="url(#hb)">
<ellipse cx="62" cy="88" rx="46" ry="58" fill="#3b528b"/><ellipse cx="58" cy="92" rx="22" ry="32" fill="#472d7b"/>
<ellipse cx="108" cy="80" rx="20" ry="26" fill="#21918c"/><ellipse cx="20" cy="20" rx="30" ry="25" fill="#21918c"/>
</g>
<rect x="1.5" y="1.5" width="149" height="148" fill="none" stroke="#a0da39" stroke-width="3" stroke-dasharray="3 3" opacity="0.8"/>
</svg>

<!-- ============ SUMMARY ============ -->
<rect x="1256" y="1936" width="2178" height="220" fill="#fff" stroke="#2b3a98" stroke-width="8"/>
<text x="1307" y="1980" font-size="37" class="b" textLength="190" lengthAdjust="spacingAndGlyphs">Summary</text>
<text x="1350" y="2027" font-size="36">•</text>
<text x="1350" y="2078" font-size="36">•</text>
<text x="1407" y="2027" font-size="36" textLength="1899" lengthAdjust="spacingAndGlyphs">Our paper propose the CAPE module allowing any data-driven SciML models <tspan class="b">to incorporate PDE parameters.</tspan></text>
<text x="1407" y="2078" font-size="36" textLength="1854" lengthAdjust="spacingAndGlyphs">ML surrogates without parameter embeddings show either (1) <tspan class="b">poor performance uniformly</tspan> for all the PDE</text>
<text x="1407" y="2130" font-size="36" textLength="1899" lengthAdjust="spacingAndGlyphs">parameters (1D Advection eq.), or (2) <tspan class="b">overfit to a specific parameter regime</tspan> (1D Burgers eq. and 2D NS eqs.).</text>

<!-- ============ FOOTER ============ -->
<rect x="1255" y="2163" width="2203" height="143" fill="#051577" stroke="#000" stroke-width="4"/>
<rect x="2764" y="2171" width="668" height="126" fill="#fff"/>
<text x="2804" y="2245" font-size="25" textLength="380" lengthAdjust="spacingAndGlyphs"><tspan fill="#f07d00">\</tspan><tspan fill="#1a2a8a">Orchestrating</tspan><tspan fill="#f07d00"> a brighter world</tspan></text>
<text x="3217" y="2257" font-size="62" class="b" fill="#1414a0" textLength="174" lengthAdjust="spacingAndGlyphs">NEC</text>
</svg>
</body></html>
